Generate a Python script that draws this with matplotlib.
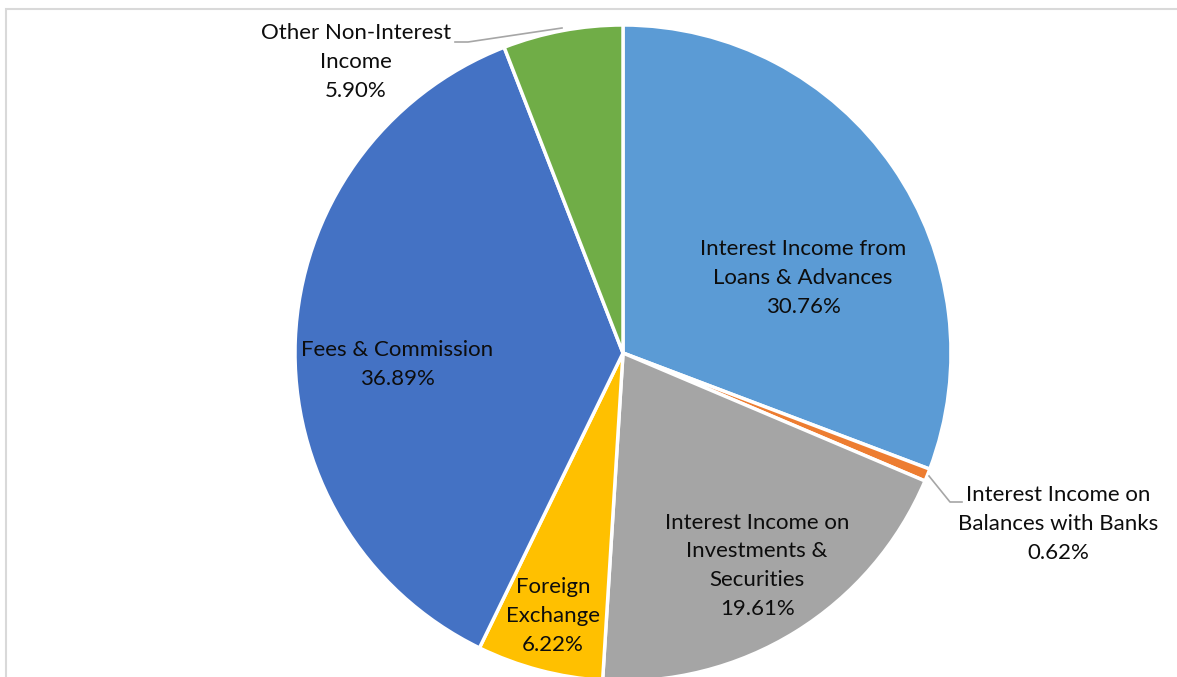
import matplotlib
matplotlib.use("Agg")
import matplotlib.pyplot as plt
from matplotlib.patches import Rectangle

labels = ["Interest Income from\nLoans & Advances",
          "Interest Income on\nBalances with Banks",
          "Interest Income on\nInvestments &\nSecurities",
          "Foreign\nExchange",
          "Fees & Commission",
          "Other Non-Interest\nIncome"]
shares = [30.76, 0.62, 19.61, 6.22, 36.89, 5.90]
colors = ["#5B9BD5", "#ED7D31", "#A5A5A5", "#FFC000", "#4472C4", "#70AD47"]

# label centres in pie-radius units
label_pos = [(0.549, 0.229), (1.326, -0.521), (0.409, -0.649),
             (-0.213, -0.802), (-0.689, -0.034), (-0.814, 0.887)]

W, H = 1177, 677
cx, cy, r = 623, 353, 328

fig = plt.figure(figsize=(W / 100, H / 100), dpi=100)
fig.patch.set_facecolor("white")
ax = fig.add_axes([0, 0, 1, 1])

ax.pie(shares, colors=colors, startangle=90, counterclock=False, radius=1,
       wedgeprops=dict(edgecolor="white", linewidth=2.5), frame=True)
ax.set_xlim(-cx / r, (W - cx) / r)
ax.set_ylim(-(H - cy) / r, cy / r)
ax.set_aspect("auto")
ax.axis("off")

for lab, val, (x, y) in zip(labels, shares, label_pos):
    ax.text(x, y, f"{lab}\n{val:.2f}%", ha="center", va="center",
            fontsize=16, family="Lato", color="#0d0d0d", linespacing=1.55)

# leader lines
def px(x, y):
    return ((x - cx) / r, (cy - y) / r)

for pts in [[(929, 476), (950, 502), (962, 502)],
            [(562, 28), (468, 42), (455, 42)]]:
    xy = [px(*p) for p in pts]
    ax.plot([p[0] for p in xy], [p[1] for p in xy], color="#a6a6a6", lw=1.2)

# chart-area frame (cropped at right and bottom)
fig.add_artist(Rectangle((6 / W, -0.1), 1.2, (H - 9) / H + 0.1,
                         transform=fig.transFigure, fill=False,
                         edgecolor="#d9d9d9", lw=1.5))

fig.savefig("out.png", dpi=100)
